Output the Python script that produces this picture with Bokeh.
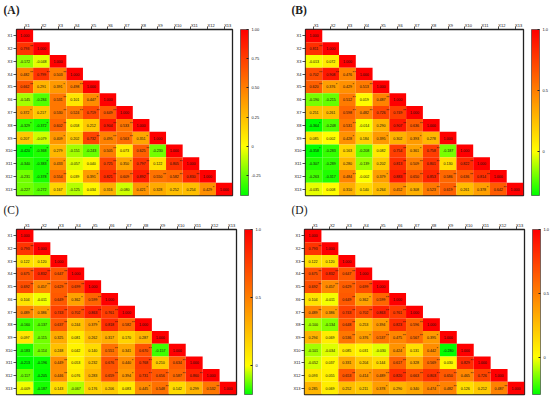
from bokeh.plotting import figure
from bokeh.embed import file_html
from bokeh.resources import INLINE
from bokeh.layouts import column, row
from bokeh.models import (ColumnDataSource, FactorRange, LinearColorMapper, ColorBar,
                          FixedTicker)

variables = ["X1", "X2", "X3", "X4", "X5", "X6", "X7", "X8", "X9", "X10", "X11", "X12", "X13"]

values_a = [
    [1.000],
    [0.793, 1.000],
    [-0.172, -0.048, 1.000],
    [0.482, 0.799, 0.503, 1.000],
    [0.662, 0.291, 0.391, 0.498, 1.000],
    [-0.145, -0.284, 0.531, 0.101, 0.447, 1.000],
    [0.372, 0.217, 0.530, 0.524, 0.719, 0.649, 1.000],
    [-0.329, -0.372, 0.602, 0.058, 0.212, 0.904, 0.533, 1.000],
    [0.207, -0.079, 0.409, 0.202, 0.732, 0.495, 0.563, 0.351, 1.000],
    [-0.420, -0.368, 0.279, -0.151, -0.243, 0.505, 0.073, 0.625, -0.230, 1.000],
    [-0.340, -0.383, 0.433, -0.057, 0.040, 0.725, 0.350, 0.797, 0.122, 0.805, 1.000],
    [-0.231, -0.378, 0.554, 0.039, 0.391, 0.821, 0.609, 0.892, 0.550, 0.582, 0.830, 1.000],
    [-0.227, -0.272, 0.167, -0.125, 0.034, 0.316, -0.080, 0.421, 0.328, 0.252, 0.254, 0.429, 1.000],
]
stars_a = [
    [0], [2, 0], [0, 0, 0], [2, 2, 2, 0], [2, 0, 1, 2, 0], [0, 0, 2, 0, 1, 0],
    [1, 0, 2, 2, 2, 2, 0], [1, 1, 2, 0, 0, 2, 2, 0], [0, 0, 1, 0, 2, 2, 2, 1, 0],
    [1, 1, 0, 0, 0, 2, 0, 2, 0, 0], [0, 1, 1, 0, 0, 2, 1, 2, 0, 2, 0],
    [0, 1, 2, 0, 1, 2, 2, 2, 2, 2, 2, 0], [0, 0, 0, 0, 0, 0, 0, 1, 0, 0, 0, 1, 0],
]
values_b = [
    [1.000],
    [0.811, 1.000],
    [-0.013, 0.072, 1.000],
    [0.702, 0.908, 0.476, 1.000],
    [0.620, 0.376, 0.429, 0.513, 1.000],
    [-0.190, -0.215, 0.512, 0.019, 0.487, 1.000],
    [0.251, 0.261, 0.598, 0.482, 0.726, 0.749, 1.000],
    [-0.364, -0.248, 0.531, -0.014, 0.290, 0.907, 0.636, 1.000],
    [0.085, 0.002, 0.428, 0.184, 0.395, 0.302, 0.393, 0.278, 1.000],
    [-0.358, -0.283, 0.163, -0.208, 0.082, 0.754, 0.361, 0.758, -0.187, 1.000],
    [-0.307, -0.289, 0.280, -0.139, 0.202, 0.813, 0.509, 0.801, 0.130, 0.822, 1.000],
    [-0.263, -0.317, 0.484, -0.002, 0.379, 0.883, 0.650, 0.853, 0.586, 0.636, 0.814, 1.000],
    [-0.035, 0.008, 0.310, 0.140, 0.264, 0.452, 0.308, 0.523, 0.619, 0.261, 0.378, 0.642, 1.000],
]
stars_b = [
    [0], [2, 0], [0, 0, 0], [2, 2, 2, 0], [2, 1, 1, 2, 0], [0, 0, 2, 0, 2, 0],
    [0, 0, 2, 2, 2, 2, 0], [1, 0, 2, 0, 0, 2, 2, 0], [0, 0, 1, 0, 1, 0, 1, 0, 0],
    [1, 0, 0, 0, 0, 2, 1, 2, 0, 0], [0, 0, 0, 0, 0, 2, 2, 2, 0, 2, 0],
    [0, 0, 2, 0, 1, 2, 2, 2, 2, 2, 2, 0], [0, 0, 0, 0, 0, 2, 0, 2, 2, 0, 1, 2, 0],
]
values_c = [
    [1.000],
    [0.793, 1.000],
    [0.122, 0.120, 1.000],
    [0.675, 0.832, 0.647, 1.000],
    [0.692, 0.457, 0.629, 0.699, 1.000],
    [0.104, -0.011, 0.649, 0.362, 0.599, 1.000],
    [0.489, 0.386, 0.743, 0.702, 0.863, 0.761, 1.000],
    [-0.160, -0.137, 0.637, 0.244, 0.379, 0.818, 0.582, 1.000],
    [0.097, -0.115, 0.325, 0.081, 0.262, 0.317, 0.170, 0.287, 1.000],
    [-0.183, -0.114, 0.248, 0.042, 0.140, 0.551, 0.341, 0.670, -0.157, 1.000],
    [-0.213, -0.196, 0.449, 0.053, 0.232, 0.676, 0.440, 0.768, 0.210, 0.634, 1.000],
    [-0.117, -0.205, 0.446, 0.076, 0.283, 0.659, 0.394, 0.731, 0.656, 0.587, 0.860, 1.000],
    [-0.009, -0.187, 0.143, -0.067, 0.176, 0.206, 0.083, 0.445, 0.548, 0.142, 0.299, 0.532, 1.000],
]
stars_c = [
    [0], [2, 0], [0, 0, 0], [2, 2, 2, 0], [2, 2, 2, 2, 0], [0, 0, 2, 1, 2, 0],
    [2, 1, 2, 2, 2, 2, 0], [0, 0, 2, 0, 1, 2, 2, 0], [0, 0, 0, 0, 0, 0, 0, 0, 0],
    [0, 0, 0, 0, 0, 2, 0, 2, 0, 0], [0, 0, 2, 0, 0, 2, 1, 2, 0, 2, 0],
    [0, 0, 2, 0, 0, 2, 1, 2, 2, 2, 2, 0], [0, 0, 0, 0, 0, 0, 0, 1, 2, 0, 0, 2, 0],
]
values_d = [
    [1.000],
    [0.793, 1.000],
    [0.122, 0.120, 1.000],
    [0.675, 0.832, 0.647, 1.000],
    [0.692, 0.457, 0.629, 0.699, 1.000],
    [0.104, -0.011, 0.649, 0.362, 0.599, 1.000],
    [0.489, 0.386, 0.743, 0.702, 0.863, 0.761, 1.000],
    [-0.100, -0.134, 0.648, 0.253, 0.394, 0.823, 0.596, 1.000],
    [0.294, 0.069, 0.536, 0.376, 0.537, 0.475, 0.567, 0.395, 1.000],
    [-0.101, -0.034, 0.085, 0.031, -0.030, 0.424, 0.131, 0.442, -0.280, 1.000],
    [-0.052, 0.037, 0.331, 0.204, 0.144, 0.617, 0.328, 0.569, 0.030, 0.829, 1.000],
    [0.093, 0.055, 0.653, 0.414, 0.489, 0.820, 0.663, 0.803, 0.650, 0.465, 0.726, 1.000],
    [0.285, 0.069, 0.252, 0.211, 0.378, 0.290, 0.340, 0.474, 0.482, 0.126, 0.212, 0.487, 1.000],
]
stars_d = [
    [0], [2, 0], [0, 0, 0], [2, 2, 2, 0], [2, 2, 2, 2, 0], [0, 0, 2, 1, 2, 0],
    [2, 1, 2, 2, 2, 2, 0], [0, 0, 2, 0, 1, 2, 2, 0], [0, 0, 2, 1, 2, 2, 2, 1, 0],
    [0, 0, 0, 0, 0, 1, 0, 1, 0, 0], [0, 0, 0, 0, 0, 2, 0, 2, 0, 2, 0],
    [0, 0, 2, 1, 2, 2, 2, 2, 2, 2, 2, 0], [0, 0, 0, 0, 1, 0, 0, 2, 2, 0, 0, 2, 0],
]

panels = [
    dict(name="(A)", bold=True, v=values_a, s=stars_a, low=-0.42, ticks=[-0.25, 0, 0.25, 0.5, 0.75, 1.0],
         labels={-0.25: "-0.25", 0: "0", 0.25: "0.25", 0.5: "0.50", 0.75: "0.75", 1.0: "1.00"},
         w=275, h=200, left=16, right=43, top=29, bottom=5, lx=-13),
    dict(name="(B)", bold=True, v=values_b, s=stars_b, low=-0.36, ticks=[0, 0.5, 1.0],
         labels={0: "0", 0.5: "0.5", 1.0: "1.0"},
         w=275, h=200, left=30, right=27, top=29, bottom=5, lx=-14),
    dict(name="(C)", bold=False, v=values_c, s=stars_c, low=-0.21, ticks=[0, 0.5, 1.0],
         labels={0: "0", 0.5: "0.5", 1.0: "1.0"},
         w=275, h=199, left=16, right=39, top=29, bottom=5, lx=-13),
    dict(name="(D)", bold=False, v=values_d, s=stars_d, low=-0.29, ticks=[0, 0.5, 1.0],
         labels={0: "0", 0.5: "0.5", 1.0: "1.0"},
         w=275, h=199, left=29, right=26, top=29, bottom=5, lx=-13),
]


def ramp(low, n=256):
    out = []
    for i in range(n):
        t = low + (1 - low) * i / (n - 1)
        if t < 0:
            f = t / low
            out.append("#%02x%02x00" % (int(255 * (1 - f)), 255))
        else:
            out.append("#ff%02x00" % int(255 * (1 - t)))
    return out


def panel(cfg):
    rows, cols, vals, txt, star = [], [], [], [], []
    for i, (vr, sr) in enumerate(zip(cfg["v"], cfg["s"])):
        for j, (v, s) in enumerate(zip(vr, sr)):
            rows.append(variables[i])
            cols.append(variables[j])
            vals.append(v)
            txt.append("%.3f" % v)
            star.append("*" * s)
    src = ColumnDataSource(dict(row=rows, col=cols, val=vals, txt=txt, star=star))
    mapper = LinearColorMapper(palette=ramp(cfg["low"]), low=cfg["low"], high=1.0)

    p = figure(width=cfg["w"], height=cfg["h"], output_backend="svg", toolbar_location=None,
               title=cfg["name"],
               x_range=FactorRange(*variables), y_range=FactorRange(*variables[::-1]),
               x_axis_location="above", tools="",
               min_border_left=cfg["left"], min_border_right=cfg["right"],
               min_border_top=cfg["top"], min_border_bottom=cfg["bottom"])
    p.title.align = "left"
    p.title.offset = cfg["lx"]
    p.title.standoff = 3
    p.title.text_font = "Liberation Serif"
    p.title.text_font_size = "11.5px"
    p.title.text_font_style = "bold" if cfg["bold"] else "normal"
    p.title.text_color = "#222222"

    p.rect("col", "row", 1, 1, source=src, fill_color={"field": "val", "transform": mapper},
           line_color=None)
    p.text("col", "row", text="txt", source=src, text_font_size="3.6px", text_color="#111111",
           text_align="center", text_baseline="middle")
    p.text("col", "row", text="star", source=src, text_font_size="4px", text_color="#111111",
           text_align="left", text_baseline="middle", x_offset=5.2, y_offset=-2)

    p.grid.visible = False
    p.outline_line_color = "#222222"
    p.outline_line_width = 1.3
    for ax in (p.xaxis[0], p.yaxis[0]):
        ax.major_label_text_font_size = "4px"
        ax.major_label_text_color = "#111111"
        ax.major_label_standoff = 1
        ax.major_tick_line_color = "#222222"
        ax.major_tick_line_width = 0.8
        ax.major_tick_out = 3
        ax.major_tick_in = 0
        ax.axis_line_color = None
        ax.minor_tick_line_color = None
    p.xaxis[0].major_label_orientation = 0

    frame_w = cfg["w"] - cfg["left"] - cfg["right"]
    frame_h = cfg["h"] - cfg["top"] - cfg["bottom"]
    cb = ColorBar(color_mapper=mapper, location=(frame_w + 8, 0), width=8, height=frame_h,
                  padding=0, margin=0, title=None, background_fill_alpha=0,
                  border_line_color=None, bar_line_color="#333333", bar_line_width=0.6,
                  ticker=FixedTicker(ticks=cfg["ticks"]),
                  major_label_overrides=cfg["labels"],
                  major_label_text_font_size="4px", major_label_text_color="#111111",
                  major_tick_line_color="#222222", major_tick_in=2, major_tick_out=0,
                  minor_tick_line_color=None, label_standoff=3)
    p.add_layout(cb, "center")
    return p


figs = [panel(c) for c in panels]
page = column(row(figs[0], figs[1], spacing=0), row(figs[2], figs[3], spacing=0),
              spacing=0, margin=0)
open("out.html", "w").write(file_html(page, INLINE))
